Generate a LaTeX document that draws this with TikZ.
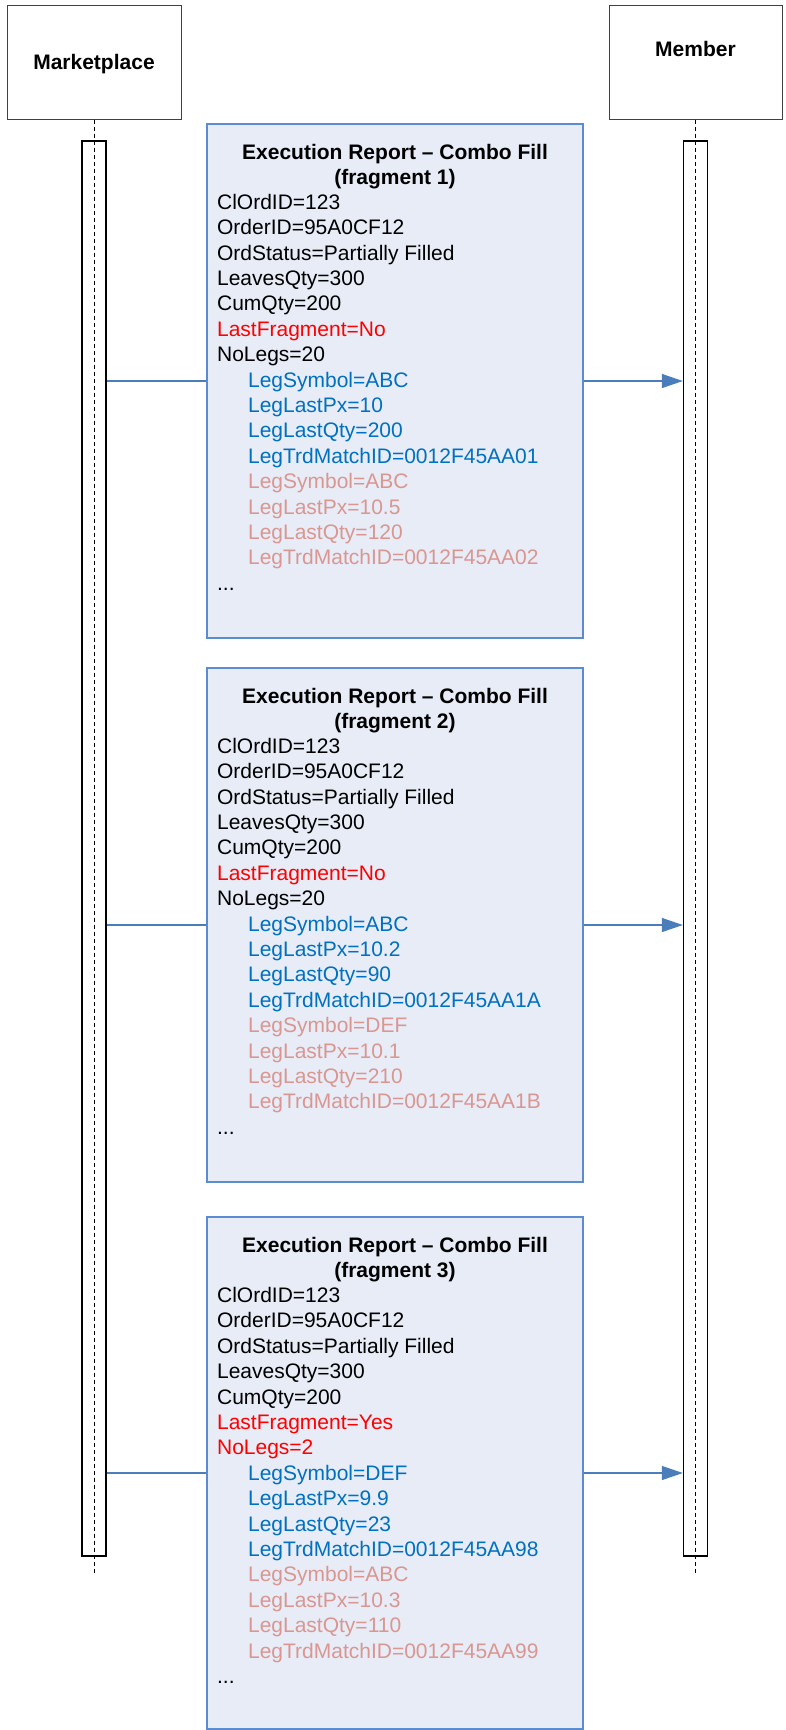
\documentclass[tikz,border=0pt]{standalone}
\usepackage{fontspec}
\setmainfont{Liberation Sans}
\usepackage{tikz}
\usetikzlibrary{arrows.meta,positioning,calc}
\definecolor{MsgFill}{HTML}{E7ECF7}
\definecolor{MsgLine}{HTML}{5B8BD0}
\definecolor{ArrowBlue}{HTML}{4A7EBB}
\definecolor{LegBlue}{HTML}{0070C0}
\definecolor{LegPink}{HTML}{DA9691}
\definecolor{FragRed}{HTML}{FF0000}
\newcommand{\legline}[2]{\hspace*{31pt}\textcolor{#1}{#2}}

\begin{document}
\begin{tikzpicture}[x=1pt,y=-1pt,
  actor/.style={draw=black!75,line width=1pt,minimum width=174pt,minimum height=114pt,inner sep=0pt,font=\fontsize{21}{25.4}\selectfont\bfseries},
  bar/.style={draw=black,line width=1.3pt,minimum width=24pt,minimum height=1415pt,inner sep=0pt},
  lifeline/.style={draw=black,line width=0.8pt,dash pattern=on 4pt off 3pt},
  msgbox/.style={draw=MsgLine,fill=MsgFill,line width=1.2pt,minimum width=376pt,minimum height=514pt,inner sep=0pt},
  msgtitle/.style={anchor=north,align=center,inner sep=0pt,font=\fontsize{21}{25.4}\selectfont\bfseries},
  msgbody/.style={anchor=north west,align=left,inner sep=0pt,font=\fontsize{21}{25.4}\selectfont},
  msgline/.style={draw=ArrowBlue,line width=1.2pt},
  arrow/.style={msgline,-{Triangle[length=21pt,width=14pt]}}
]
\useasboundingbox (0,0) rectangle (786,1730);
\node[actor,text depth=0pt] (mkt) at (94,62) {Marketplace};
\node[actor,minimum width=173pt,text depth=27pt] (mem) at (695.5,62) {Member};
\coordinate (mktend) at (94,1574);
\coordinate (memend) at (695.5,1574);
\node[bar] (bar1) at (94,848.5) {};
\node[bar] (bar2) at (695.5,848.5) {};
\draw[lifeline] (mkt.south) -- (mktend);
\draw[lifeline] (mem.south) -- (memend);

% fragment 1
\node[msgbox] (msg1) at (395,381) {};
\node[msgtitle] (title1) at ([yshift=-18pt]msg1.north) {\strut Execution Report – Combo Fill\\(fragment 1)};
\node[msgbody] (body1) at ([xshift=10.5pt,yshift=-68pt]msg1.north west) {\strut ClOrdID=123\\OrderID=95A0CF12\\OrdStatus=Partially Filled\\LeavesQty=300\\CumQty=200\\
  \textcolor{FragRed}{LastFragment=No}\\NoLegs=20\\
  \legline{LegBlue}{LegSymbol=ABC}\\\legline{LegBlue}{LegLastPx=10}\\\legline{LegBlue}{LegLastQty=200}\\\legline{LegBlue}{LegTrdMatchID=0012F45AA01}\\
  \legline{LegPink}{LegSymbol=ABC}\\\legline{LegPink}{LegLastPx=10.5}\\\legline{LegPink}{LegLastQty=120}\\\legline{LegPink}{LegTrdMatchID=0012F45AA02}\\
  ...};
\draw[msgline] (bar1.east |- msg1.west) -- (msg1.west);
\draw[arrow] (msg1.east) -- (bar2.west |- msg1.east);

% fragment 2
\node[msgbox] (msg2) at (395,925) {};
\node[msgtitle] (title2) at ([yshift=-18pt]msg2.north) {\strut Execution Report – Combo Fill\\(fragment 2)};
\node[msgbody] (body2) at ([xshift=10.5pt,yshift=-68pt]msg2.north west) {\strut ClOrdID=123\\OrderID=95A0CF12\\OrdStatus=Partially Filled\\LeavesQty=300\\CumQty=200\\
  \textcolor{FragRed}{LastFragment=No}\\NoLegs=20\\
  \legline{LegBlue}{LegSymbol=ABC}\\\legline{LegBlue}{LegLastPx=10.2}\\\legline{LegBlue}{LegLastQty=90}\\\legline{LegBlue}{LegTrdMatchID=0012F45AA1A}\\
  \legline{LegPink}{LegSymbol=DEF}\\\legline{LegPink}{LegLastPx=10.1}\\\legline{LegPink}{LegLastQty=210}\\\legline{LegPink}{LegTrdMatchID=0012F45AA1B}\\
  ...};
\draw[msgline] (bar1.east |- msg2.west) -- (msg2.west);
\draw[arrow] (msg2.east) -- (bar2.west |- msg2.east);

% fragment 3
\node[msgbox,minimum height=512pt] (msg3) at (395,1473) {};
\node[msgtitle] (title3) at ([yshift=-18pt]msg3.north) {\strut Execution Report – Combo Fill\\(fragment 3)};
\node[msgbody] (body3) at ([xshift=10.5pt,yshift=-68pt]msg3.north west) {\strut ClOrdID=123\\OrderID=95A0CF12\\OrdStatus=Partially Filled\\LeavesQty=300\\CumQty=200\\
  \textcolor{FragRed}{LastFragment=Yes}\\\textcolor{FragRed}{NoLegs=2}\\
  \legline{LegBlue}{LegSymbol=DEF}\\\legline{LegBlue}{LegLastPx=9.9}\\\legline{LegBlue}{LegLastQty=23}\\\legline{LegBlue}{LegTrdMatchID=0012F45AA98}\\
  \legline{LegPink}{LegSymbol=ABC}\\\legline{LegPink}{LegLastPx=10.3}\\\legline{LegPink}{LegLastQty=110}\\\legline{LegPink}{LegTrdMatchID=0012F45AA99}\\
  ...};
\draw[msgline] (bar1.east |- msg3.west) -- (msg3.west);
\draw[arrow] (msg3.east) -- (bar2.west |- msg3.east);
\end{tikzpicture}
\end{document}
